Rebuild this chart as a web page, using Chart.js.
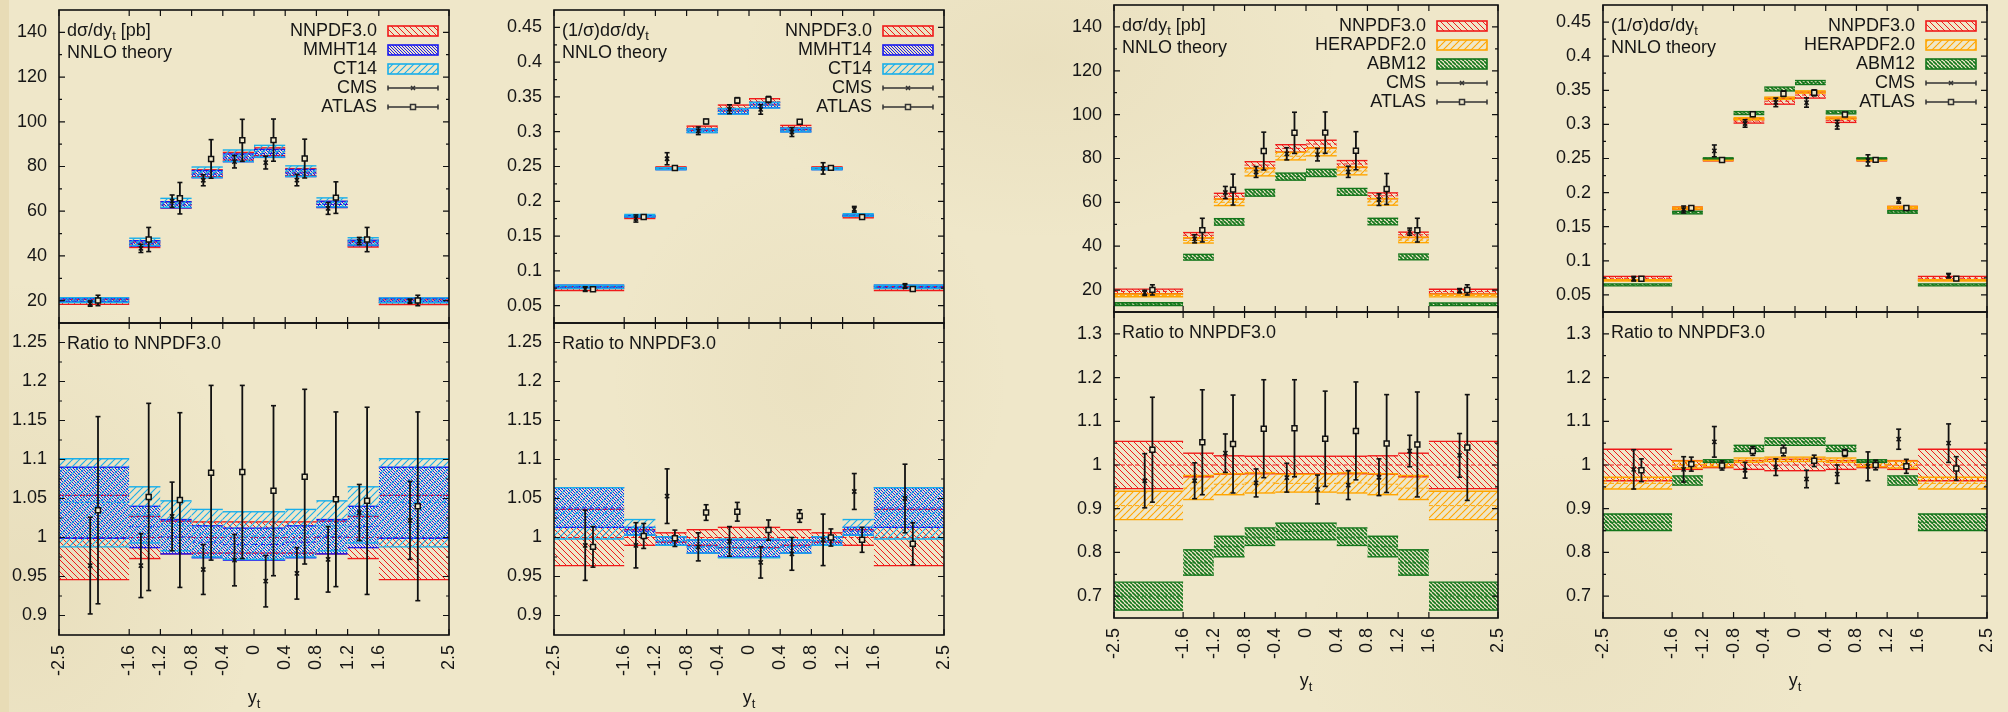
<!DOCTYPE html>
<html>
<head>
<meta charset="utf-8">
<script src="https://cdn.jsdelivr.net/npm/chart.js@4.4.1/dist/chart.umd.min.js"></script>
<style>
  html, body { margin: 0; padding: 0; }
  body {
    width: 2008px; height: 712px; overflow: hidden; position: relative;
    background:
      radial-gradient(ellipse 300px 180px at 1040px 60px, rgba(185, 160, 100, 0.10), rgba(185, 160, 100, 0)),
      radial-gradient(ellipse 240px 300px at 20px 580px, rgba(185, 160, 100, 0.12), rgba(185, 160, 100, 0)),
      radial-gradient(ellipse 200px 220px at 810px 380px, rgba(185, 160, 100, 0.08), rgba(185, 160, 100, 0)),
      radial-gradient(ellipse 260px 200px at 1560px 650px, rgba(185, 160, 100, 0.07), rgba(185, 160, 100, 0)),
      #efe7c9;
  }
  canvas { position: absolute; }
  #edgeL { position: absolute; left: 0; top: 0; width: 9px; height: 712px; background: #e8dcb6; }
</style>
</head>
<body>
<div id="edgeL"></div>
<script>
// top-quark rapidity bins
const binEdges = [-2.5, -1.6, -1.2, -0.8, -0.4, 0, 0.4, 0.8, 1.2, 1.6, 2.5];
const xTicks = [-2.5, -1.6, -1.2, -0.8, -0.4, 0, 0.4, 0.8, 1.2, 1.6, 2.5];
const xTickLabels = ['-2.5', '-1.6', '-1.2', '-0.8', '-0.4', '0', '0.4', '0.8', '1.2', '1.6', '2.5'];
const cmsX = [-2.1, -1.45, -1.05, -0.65, -0.25, 0.15, 0.55, 0.95, 1.35, 2.0];
const atlasX = [-2.0, -1.35, -0.95, -0.55, -0.15, 0.25, 0.65, 1.05, 1.45, 2.1];

// y axes
const absTicks = [20, 40, 60, 80, 100, 120, 140];
const absTickLabels = ['20', '40', '60', '80', '100', '120', '140'];
const absMinor = [30, 50, 70, 90, 110, 130];
const normTicks = [0.05, 0.1, 0.15, 0.2, 0.25, 0.3, 0.35, 0.4, 0.45];
const normTickLabels = ['0.05', '0.1', '0.15', '0.2', '0.25', '0.3', '0.35', '0.4', '0.45'];
const normMinor = [0.075, 0.125, 0.175, 0.225, 0.275, 0.325, 0.375, 0.425];
const ratioTicksA = [0.9, 0.95, 1, 1.05, 1.1, 1.15, 1.2, 1.25];
const ratioTickLabelsA = ['0.9', '0.95', '1', '1.05', '1.1', '1.15', '1.2', '1.25'];
const ratioMinorA = [0.925, 0.975, 1.025, 1.075, 1.125, 1.175, 1.225];
const ratioTicksB = [0.7, 0.8, 0.9, 1, 1.1, 1.2, 1.3];
const ratioTickLabelsB = ['0.7', '0.8', '0.9', '1', '1.1', '1.2', '1.3'];
const ratioMinorB = [0.75, 0.85, 0.95, 1.05, 1.15, 1.25];

// NNPDF3.0 central predictions
const nnpdfAbs = [19.4, 45.0, 62.8, 77.0, 84.6, 86.6, 77.5, 63.0, 45.2, 19.3];
const nnpdfNorm = [0.0745, 0.177, 0.248, 0.305, 0.334, 0.343, 0.306, 0.248, 0.178, 0.0745];

// absolute distribution: ratios to NNPDF3.0
const nnpdfAbsErr = [0.054, 0.027, 0.021, 0.020, 0.020, 0.020, 0.020, 0.021, 0.027, 0.054];
const mmhtAbsMid = [1.045, 1.014, 1.001, 0.994, 0.991, 0.991, 0.994, 1.001, 1.014, 1.045];
const mmhtAbsLo = [0.999, 0.987, 0.979, 0.974, 0.971, 0.971, 0.974, 0.979, 0.987, 0.999];
const mmhtAbsHi = [1.090, 1.040, 1.023, 1.015, 1.012, 1.012, 1.015, 1.023, 1.040, 1.090];
const ct14AbsMid = [1.045, 1.029, 1.015, 1.005, 1.002, 1.002, 1.005, 1.015, 1.029, 1.045];
const ct14AbsLo = [0.988, 0.993, 0.983, 0.975, 0.972, 0.972, 0.975, 0.983, 0.993, 0.988];
const ct14AbsHi = [1.101, 1.065, 1.047, 1.036, 1.033, 1.033, 1.036, 1.047, 1.065, 1.101];
const heraAbsMid = [0.907, 0.947, 0.956, 0.959, 0.958, 0.958, 0.959, 0.956, 0.947, 0.907];
const heraAbsLo = [0.875, 0.921, 0.932, 0.936, 0.938, 0.938, 0.936, 0.932, 0.921, 0.875];
const heraAbsHi = [0.940, 0.976, 0.980, 0.982, 0.979, 0.979, 0.982, 0.980, 0.976, 0.940];
const abmAbsMid = [0.700, 0.776, 0.813, 0.835, 0.848, 0.848, 0.835, 0.813, 0.776, 0.700];
const abmAbsLo = [0.668, 0.748, 0.790, 0.816, 0.829, 0.829, 0.816, 0.790, 0.748, 0.668];
const abmAbsHi = [0.732, 0.806, 0.837, 0.856, 0.867, 0.867, 0.856, 0.837, 0.806, 0.732];
const cmsAbsR = [0.964, 0.964, 1.027, 0.959, 0.971, 0.944, 0.954, 0.972, 1.032, 1.022];
const cmsAbsE = [0.062, 0.041, 0.044, 0.032, 0.033, 0.033, 0.033, 0.042, 0.036, 0.050];
const atlasAbsR = [1.035, 1.052, 1.048, 1.083, 1.084, 1.060, 1.078, 1.049, 1.047, 1.040];
const atlasAbsE = [0.120, 0.120, 0.112, 0.112, 0.111, 0.109, 0.112, 0.112, 0.120, 0.121];

// normalised distribution: ratios to NNPDF3.0
const nnpdfNormErr = [0.036, 0.010, 0.006, 0.010, 0.013, 0.013, 0.010, 0.006, 0.010, 0.036];
const mmhtNormMid = [1.038, 1.008, 0.996, 0.988, 0.986, 0.986, 0.988, 0.996, 1.008, 1.038];
const mmhtNormLo = [1.013, 1.003, 0.990, 0.980, 0.975, 0.975, 0.980, 0.990, 1.003, 1.013];
const mmhtNormHi = [1.064, 1.013, 1.001, 0.997, 0.997, 0.997, 0.997, 1.001, 1.013, 1.064];
const ct14NormMid = [1.031, 1.013, 0.996, 0.988, 0.986, 0.986, 0.988, 0.996, 1.013, 1.031];
const ct14NormLo = [0.998, 1.003, 0.990, 0.980, 0.974, 0.974, 0.980, 0.990, 1.003, 0.998];
const ct14NormHi = [1.064, 1.023, 1.001, 0.997, 0.998, 0.998, 0.997, 1.001, 1.023, 1.064];
const heraNormMid = [0.958, 1.001, 1.001, 1.011, 1.013, 1.013, 1.011, 1.001, 1.001, 0.958];
const heraNormLo = [0.945, 0.993, 0.996, 1.006, 1.008, 1.008, 1.006, 0.996, 0.993, 0.945];
const heraNormHi = [0.972, 1.009, 1.006, 1.016, 1.018, 1.018, 1.016, 1.006, 1.009, 0.972];
const abmNormMid = [0.869, 0.964, 1.009, 1.038, 1.053, 1.053, 1.038, 1.009, 0.964, 0.869];
const abmNormLo = [0.850, 0.954, 1.006, 1.031, 1.045, 1.045, 1.031, 1.006, 0.954, 0.850];
const abmNormHi = [0.888, 0.975, 1.012, 1.045, 1.062, 1.062, 1.045, 1.012, 0.975, 0.888];
const cmsNormR = [0.990, 0.990, 1.053, 0.988, 0.995, 0.968, 0.979, 0.997, 1.059, 1.050];
const cmsNormE = [0.045, 0.029, 0.035, 0.018, 0.019, 0.020, 0.021, 0.033, 0.023, 0.044];
const atlasNormR = [0.988, 1.002, 0.999, 1.032, 1.033, 1.0095, 1.0275, 1.000, 0.997, 0.992];
const atlasNormE = [0.026, 0.016, 0.0105, 0.010, 0.012, 0.013, 0.008, 0.011, 0.016, 0.027];

const legendA = ['NNPDF3.0', 'MMHT14', 'CT14', 'CMS', 'ATLAS'];
const legendB = ['NNPDF3.0', 'HERAPDF2.0', 'ABM12', 'CMS', 'ATLAS'];

const FONT = "'Liberation Sans', Arial, Helvetica, sans-serif";
const INK = '#161616';
const BG = '#efe7c9';
Chart.defaults.font.family = FONT;
Chart.defaults.font.size = 18;
Chart.defaults.color = INK;

function makeHatch(color, s, dir, lw) {
  const c = document.createElement('canvas');
  c.width = s; c.height = s;
  const g = c.getContext('2d');
  g.strokeStyle = color;
  g.lineWidth = lw;
  g.beginPath();
  for (let k = -1; k <= 1; k++) {
    if (dir === '\\') { g.moveTo(0, k * s); g.lineTo(s, k * s + s); }
    else { g.moveTo(0, k * s + s); g.lineTo(s, k * s); }
  }
  g.stroke();
  return g.createPattern(c, 'repeat');
}

const STY = {
  nnpdf: { color: '#f01a1a', hatch: makeHatch('#f01a1a', 6, '\\', 1) },
  mmht: { color: '#1a1aee', hatch: makeHatch('#1a1aee', 3, '\\', 1) },
  ct14: { color: '#18aeea', hatch: makeHatch('#18aeea', 7, '/', 1.1) },
  hera: { color: '#ffa500', hatch: makeHatch('#ffa500', 7, '/', 1.1) },
  abm: { color: '#13761b', hatch: makeHatch('#13761b', 4, '\\', 1.6) }
};

function bandDatasets(style, lo, hi, mid, order) {
  const sets = [];
  for (let i = 0; i < lo.length; i++) {
    const x0 = binEdges[i], x1 = binEdges[i + 1];
    sets.push({ data: [{ x: x0, y: hi[i] }, { x: x1, y: hi[i] }], borderColor: style.color, borderWidth: 1.4,
      backgroundColor: style.hatch, fill: '+1', pointRadius: 0, order });
    sets.push({ data: [{ x: x0, y: lo[i] }, { x: x1, y: lo[i] }], borderColor: style.color, borderWidth: 1.4,
      fill: false, pointRadius: 0, order });
    sets.push({ data: [{ x: x0, y: mid[i] }, { x: x1, y: mid[i] }], borderColor: style.color, borderWidth: 1,
      borderDash: [4, 3], fill: false, pointRadius: 0, order });
  }
  return sets;
}

function pointDatasets(xs, ys, es, marker) {
  const sets = [];
  xs.forEach((x, i) => {
    sets.push({ data: [{ x, y: ys[i] - es[i] }, { x, y: ys[i] + es[i] }], borderColor: '#111', borderWidth: 1.8,
      pointStyle: 'line', pointRadius: 2.5, pointBorderWidth: 1.6, pointBorderColor: '#111', fill: false, order: 2 });
  });
  sets.push({ data: xs.map((x, i) => ({ x, y: ys[i] })), showLine: false, fill: false, order: 1,
    pointStyle: marker === 'cms' ? 'crossRot' : 'rect', pointRadius: marker === 'cms' ? 3 : 3.5,
    pointBorderWidth: 1.5, pointBorderColor: '#111', pointBackgroundColor: marker === 'cms' ? 'rgba(0,0,0,0)' : BG });
  return sets;
}

function drawParts(ctx, parts, x, y, align) {
  const big = '18px ' + FONT, small = '13px ' + FONT;
  let total = 0;
  parts.forEach(([t, sub]) => { ctx.font = sub ? small : big; total += ctx.measureText(t).width; });
  let cx = align === 'center' ? x - total / 2 : align === 'right' ? x - total : x;
  ctx.textAlign = 'left';
  parts.forEach(([t, sub]) => {
    ctx.font = sub ? small : big;
    ctx.fillText(t, cx, sub ? y + 5 : y);
    cx += ctx.measureText(t).width;
  });
}

function decor(cfg) {
  return {
    id: 'decor',
    afterDraw(chart) {
      const { ctx, chartArea: a, scales: { x, y } } = chart;
      ctx.save();
      // inward tick marks on all four sides
      ctx.strokeStyle = '#111';
      ctx.lineWidth = 1.2;
      ctx.beginPath();
      cfg.yMajor.forEach(v => {
        const py = y.getPixelForValue(v);
        ctx.moveTo(a.left, py); ctx.lineTo(a.left + 6, py);
        ctx.moveTo(a.right, py); ctx.lineTo(a.right - 6, py);
      });
      cfg.yMinor.forEach(v => {
        const py = y.getPixelForValue(v);
        ctx.moveTo(a.left, py); ctx.lineTo(a.left + 3, py);
        ctx.moveTo(a.right, py); ctx.lineTo(a.right - 3, py);
      });
      xTicks.forEach(v => {
        const px = x.getPixelForValue(v);
        ctx.moveTo(px, a.bottom); ctx.lineTo(px, a.bottom - 6);
        ctx.moveTo(px, a.top); ctx.lineTo(px, a.top + 6);
      });
      ctx.stroke();
      ctx.lineWidth = 1.6;
      ctx.strokeRect(a.left, a.top, a.right - a.left, a.bottom - a.top);

      ctx.fillStyle = INK;
      ctx.textBaseline = 'middle';
      cfg.notes.forEach((parts, i) => drawParts(ctx, parts, a.left + 8, a.top + 21.5 + i * 22, 'left'));

      if (cfg.legend) {
        cfg.legend.forEach((e, i) => {
          const cy = a.top + 21 + i * 19;
          ctx.font = '18px ' + FONT;
          ctx.fillStyle = INK;
          ctx.textAlign = 'right';
          ctx.fillText(e.label, a.right - 72, cy);
          const k0 = a.right - 61, k1 = a.right - 11;
          if (e.style) {
            ctx.fillStyle = e.style.hatch;
            ctx.fillRect(k0, cy - 5, 50, 10);
            ctx.strokeStyle = e.style.color;
            ctx.lineWidth = 1.6;
            ctx.strokeRect(k0, cy - 5, 50, 10);
          } else {
            ctx.strokeStyle = '#333';
            ctx.lineWidth = 1.5;
            ctx.beginPath();
            ctx.moveTo(k0, cy); ctx.lineTo(k1, cy);
            ctx.moveTo(k0, cy - 2.5); ctx.lineTo(k0, cy + 2.5);
            ctx.moveTo(k1, cy - 2.5); ctx.lineTo(k1, cy + 2.5);
            ctx.stroke();
            const mx = (k0 + k1) / 2;
            ctx.beginPath();
            if (e.marker === 'cms') {
              ctx.moveTo(mx - 2, cy - 2); ctx.lineTo(mx + 2, cy + 2);
              ctx.moveTo(mx - 2, cy + 2); ctx.lineTo(mx + 2, cy - 2);
              ctx.stroke();
            } else {
              ctx.fillStyle = BG;
              ctx.fillRect(mx - 2.5, cy - 2.5, 5, 5);
              ctx.strokeRect(mx - 2.5, cy - 2.5, 5, 5);
            }
          }
        });
      }

      if (cfg.xTitle) {
        ctx.fillStyle = INK;
        ctx.textBaseline = 'alphabetic';
        drawParts(ctx, [['y', false], ['t', true]], (a.left + a.right) / 2, a.bottom + 68, 'center');
      }
      ctx.restore();
    }
  };
}

// generous canvas padding so Chart.js's own label padding never moves the plot area
const PAD = 44;

function subPanel(box, isTop, spec) {
  const yAxisW = 58;
  const cLeft = box.L - yAxisW;
  const cW = (box.R - box.L) + yAxisW + PAD;
  const cTop = isTop ? box.T - PAD : box.D - PAD;
  const cH = isTop ? (box.D - box.T) + 2 * PAD : 712 - cTop;
  const xH = 712 - box.B;

  const c = document.createElement('canvas');
  c.width = cW; c.height = cH;
  c.style.left = cLeft + 'px'; c.style.top = cTop + 'px';
  c.style.width = cW + 'px'; c.style.height = cH + 'px';
  document.body.appendChild(c);

  new Chart(c, {
    type: 'line',
    data: { datasets: spec.datasets },
    options: {
      responsive: false,
      animation: false,
      events: [],
      layout: { autoPadding: false, padding: { left: 0, top: PAD, right: PAD, bottom: isTop ? PAD : 0 } },
      plugins: { legend: { display: false }, tooltip: { enabled: false } },
      scales: {
        x: {
          type: 'linear', min: -2.5, max: 2.5, display: !isTop,
          grid: { display: false, drawTicks: false }, border: { display: false },
          afterBuildTicks: s => { s.ticks = xTicks.map(v => ({ value: v })); },
          afterFit: s => { s.height = isTop ? 0 : xH; },
          ticks: { autoSkip: false, minRotation: 90, maxRotation: 90, padding: 10,
            callback: (v, i) => xTickLabels[i] }
        },
        y: {
          type: 'linear', min: spec.yMin, max: spec.yMax,
          grid: { display: false, drawTicks: false }, border: { display: false },
          afterBuildTicks: s => { s.ticks = spec.yTicks.map(v => ({ value: v })); },
          afterFit: s => { s.width = yAxisW; },
          ticks: { padding: 12, callback: (v, i) => spec.yLabels[i] }
        }
      }
    },
    plugins: [decor({ yMajor: spec.yTicks, yMinor: spec.yMinor, notes: spec.notes, legend: spec.legend, xTitle: !isTop })]
  });
}

const boxes = [
  { L: 59, R: 449, T: 10, D: 323, B: 635 },
  { L: 554, R: 944, T: 10, D: 323, B: 635 },
  { L: 1114, R: 1498, T: 5, D: 312, B: 618 },
  { L: 1603, R: 1987, T: 5, D: 312, B: 618 }
];

const panels = [
  { central: nnpdfAbs, nnErr: nnpdfAbsErr, norm: false, labels: legendA,
    pdfs: [[STY.mmht, mmhtAbsLo, mmhtAbsHi, mmhtAbsMid], [STY.ct14, ct14AbsLo, ct14AbsHi, ct14AbsMid]],
    cms: [cmsAbsR, cmsAbsE], atlas: [atlasAbsR, atlasAbsE], ratioSet: 'A' },
  { central: nnpdfNorm, nnErr: nnpdfNormErr, norm: true, labels: legendA,
    pdfs: [[STY.mmht, mmhtNormLo, mmhtNormHi, mmhtNormMid], [STY.ct14, ct14NormLo, ct14NormHi, ct14NormMid]],
    cms: [cmsNormR, cmsNormE], atlas: [atlasNormR, atlasNormE], ratioSet: 'A' },
  { central: nnpdfAbs, nnErr: nnpdfAbsErr, norm: false, labels: legendB,
    pdfs: [[STY.hera, heraAbsLo, heraAbsHi, heraAbsMid], [STY.abm, abmAbsLo, abmAbsHi, abmAbsMid]],
    cms: [cmsAbsR, cmsAbsE], atlas: [atlasAbsR, atlasAbsE], ratioSet: 'B' },
  { central: nnpdfNorm, nnErr: nnpdfNormErr, norm: true, labels: legendB,
    pdfs: [[STY.hera, heraNormLo, heraNormHi, heraNormMid], [STY.abm, abmNormLo, abmNormHi, abmNormMid]],
    cms: [cmsNormR, cmsNormE], atlas: [atlasNormR, atlasNormE], ratioSet: 'B' }
];

panels.forEach((p, k) => {
  const box = boxes[k];
  const styles = [STY.nnpdf, p.pdfs[0][0], p.pdfs[1][0]];
  const ones = p.central.map(() => 1);

  ['top', 'ratio'].forEach(part => {
    const isTop = part === 'top';
    const scale = isTop ? p.central : ones;
    const mul = (arr) => arr.map((v, i) => v * scale[i]);
    let datasets = [];
    datasets = datasets.concat(bandDatasets(STY.nnpdf,
      mul(p.nnErr.map(e => 1 - e)), mul(p.nnErr.map(e => 1 + e)), mul(ones), 30));
    p.pdfs.forEach(([sty, lo, hi, mid], j) => {
      datasets = datasets.concat(bandDatasets(sty, mul(lo), mul(hi), mul(mid), 20 - j * 10));
    });
    datasets = datasets.concat(pointDatasets(cmsX, mul(p.cms[0]), mul(p.cms[1]), 'cms'));
    datasets = datasets.concat(pointDatasets(atlasX, mul(p.atlas[0]), mul(p.atlas[1]), 'atlas'));

    let spec;
    if (isTop) {
      const legend = p.labels.map((label, i) => i < 3 ? { label, style: styles[i] } : { label, marker: i === 3 ? 'cms' : 'atlas' });
      spec = p.norm
        ? { yMin: 0.025, yMax: 0.475, yTicks: normTicks, yLabels: normTickLabels, yMinor: normMinor,
            notes: [[['(1/σ)dσ/dy', false], ['t', true]], [['NNLO theory', false]]], legend }
        : { yMin: 10, yMax: 150, yTicks: absTicks, yLabels: absTickLabels, yMinor: absMinor,
            notes: [[['dσ/dy', false], ['t', true], [' [pb]', false]], [['NNLO theory', false]]], legend };
    } else {
      spec = p.ratioSet === 'A'
        ? { yMin: 0.875, yMax: 1.275, yTicks: ratioTicksA, yLabels: ratioTickLabelsA, yMinor: ratioMinorA }
        : { yMin: 0.65, yMax: 1.35, yTicks: ratioTicksB, yLabels: ratioTickLabelsB, yMinor: ratioMinorB };
      spec.notes = [[['Ratio to NNPDF3.0', false]]];
      spec.legend = null;
    }
    spec.datasets = datasets;
    subPanel(box, isTop, spec);
  });
});
</script>
</body>
</html>
